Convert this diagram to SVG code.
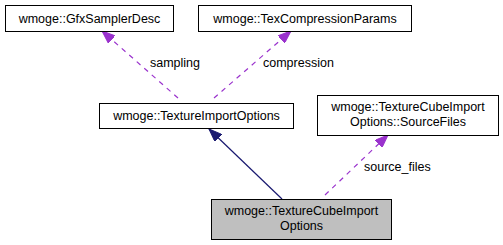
<svg xmlns="http://www.w3.org/2000/svg" width="503" height="245" viewBox="0 0 503 245">
  <style>
    .box { fill: #ffffff; stroke: #000000; stroke-width: 1; }
    .cur { fill: #bfbfbf; stroke: #000000; stroke-width: 1; }
    .lbl { font-family: "Liberation Sans", Arial, Helvetica, sans-serif; font-size: 12.5px; fill: #000000; text-anchor: middle; }
    .elbl { font-family: "Liberation Sans", Arial, Helvetica, sans-serif; font-size: 12.5px; fill: #000000; }
    .use { fill: none; stroke: #9a32cd; stroke-width: 1.2; stroke-dasharray: 5,5; }
    .inh { fill: none; stroke: #191970; stroke-width: 1.2; }
  </style>
  <defs>
    <marker id="arrowUse" viewBox="0 0 13 10" refX="13" refY="5" markerWidth="13" markerHeight="10" markerUnits="userSpaceOnUse" orient="auto">
      <path d="M0,0 L13,5 L0,10 z" fill="#9a32cd" stroke="#9a32cd" stroke-width="1"/>
    </marker>
    <marker id="arrowInh" viewBox="0 0 13 10" refX="13" refY="5" markerWidth="13" markerHeight="10" markerUnits="userSpaceOnUse" orient="auto">
      <path d="M0,0 L13,5 L0,10 z" fill="#191970" stroke="#191970" stroke-width="1"/>
    </marker>
  </defs>

  <g id="connectors">
    <g id="edge-sampling">
      <path class="use" d="M178,98 L102,31" marker-end="url(#arrowUse)"/>
      <text class="elbl" x="150" y="67">sampling</text>
    </g>
    <g id="edge-compression">
      <path class="use" d="M214,98 L291,31" marker-end="url(#arrowUse)"/>
      <text class="elbl" x="263" y="67">compression</text>
    </g>
    <g id="edge-inherit">
      <path class="inh" d="M282,199 L209,129" marker-end="url(#arrowInh)"/>
    </g>
    <g id="edge-source-files">
      <path class="use" d="M325,195 L388,135" marker-end="url(#arrowUse)"/>
      <text class="elbl" x="364" y="171">source_files</text>
    </g>
  </g>

  <g id="node-gfx-sampler-desc">
    <rect class="box" x="5.5" y="5.5" width="168" height="26"/>
    <text class="lbl" x="89.5" y="23">wmoge::GfxSamplerDesc</text>
  </g>

  <g id="node-tex-compression-params">
    <rect class="box" x="198.5" y="5.5" width="213" height="26"/>
    <text class="lbl" x="305" y="23">wmoge::TexCompressionParams</text>
  </g>

  <g id="node-texture-import-options">
    <rect class="box" x="99.5" y="103.5" width="194" height="25"/>
    <text class="lbl" x="196.5" y="120">wmoge::TextureImportOptions</text>
  </g>

  <g id="node-source-files">
    <rect class="box" x="317.5" y="95.5" width="181" height="40"/>
    <text class="lbl" x="408" y="111">wmoge::TextureCubeImport</text>
    <text class="lbl" x="408" y="126">Options::SourceFiles</text>
  </g>

  <g id="node-texture-cube-import-options">
    <rect class="cur" x="211.5" y="199.5" width="180" height="40"/>
    <text class="lbl" x="301.5" y="215">wmoge::TextureCubeImport</text>
    <text class="lbl" x="301.5" y="230">Options</text>
  </g>
</svg>
